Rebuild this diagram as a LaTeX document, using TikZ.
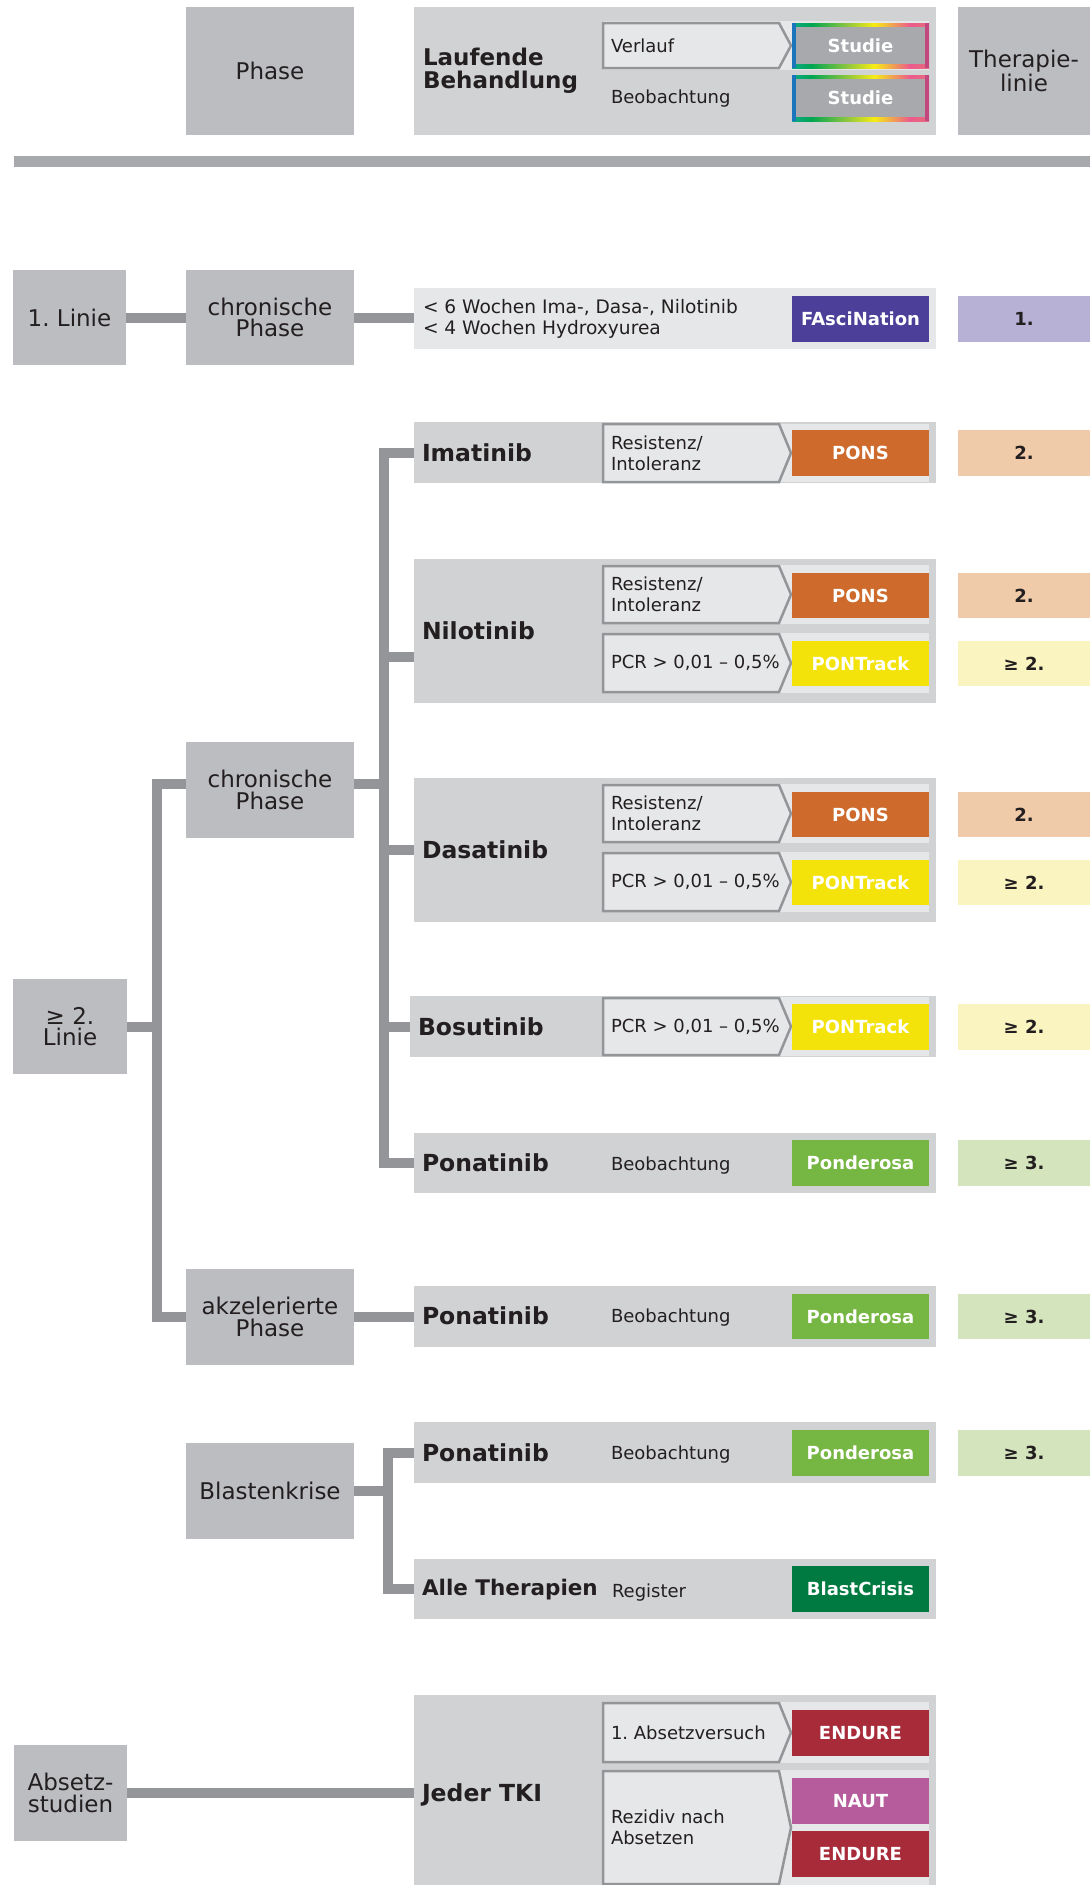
\documentclass[tikz,border=0pt]{standalone}
\usepackage{fontspec}
\setmainfont{DejaVu Sans}
\frenchspacing
\definecolor{txt}{HTML}{231F20}
\definecolor{phgray}{HTML}{BCBDC0}
\definecolor{rowgray}{HTML}{D1D2D4}
\definecolor{panelgray}{HTML}{E6E7E8}
\definecolor{arrgray}{HTML}{939598}
\definecolor{conngray}{HTML}{939598}
\definecolor{bargray}{HTML}{A7A9AC}
\definecolor{studgray}{HTML}{A7A9AC}
\definecolor{fascol}{HTML}{4B3F99}
\definecolor{lav}{HTML}{B8B1D6}
\definecolor{ponscol}{HTML}{CD6A2C}
\definecolor{peach}{HTML}{EFCBAA}
\definecolor{trackcol}{HTML}{F4E30B}
\definecolor{lightyel}{HTML}{FAF4C1}
\definecolor{pondcol}{HTML}{76B643}
\definecolor{lightgrn}{HTML}{D4E5BD}
\definecolor{blastcol}{HTML}{007A40}
\definecolor{endurecol}{HTML}{A82B3A}
\definecolor{nautcol}{HTML}{B65B9C}
\definecolor{rbBlue}{HTML}{1B75BC}
\definecolor{rbCyan}{HTML}{27AAE1}
\definecolor{rbGreen}{HTML}{00A651}
\definecolor{rbLime}{HTML}{8DC63F}
\definecolor{rbYellow}{HTML}{F7EC13}
\definecolor{rbPink}{HTML}{EC5A8C}
\definecolor{rbSalmon}{HTML}{DE7F6B}
\definecolor{rbRed}{HTML}{A6263E}
\definecolor{rbEnd}{HTML}{C2477F}
\pgfdeclarehorizontalshading{rainbow}{100bp}{color(0bp)=(rbBlue); color(14bp)=(rbCyan); color(32bp)=(rbGreen); color(45bp)=(rbLime); color(55bp)=(rbYellow); color(68bp)=(rbPink); color(82bp)=(rbSalmon); color(93bp)=(rbRed); color(100bp)=(rbRed)}
\tikzset{
  base/.style={inner sep=0pt, outer sep=0pt, text=txt},
  phasebox/.style={base, fill=phgray, align=center, font=\fontsize{11.5}{10.8}\selectfont},
  rowbox/.style={base, fill=rowgray},
  lightrow/.style={base, fill=panelgray},
  panelbox/.style={base, fill=panelgray},
  studybox/.style={base, text=white, align=center, font=\bfseries\fontsize{9}{10}\selectfont},
  linebox/.style={base, align=center, font=\bfseries\fontsize{9}{10}\selectfont},
  drugtext/.style={base, anchor=west, align=left, font=\bfseries\fontsize{11.75}{11.5}\selectfont},
  smalltext/.style={base, anchor=west, align=left, font=\fontsize{9}{10.6}\selectfont},
  arrowline/.style={draw=arrgray, fill=panelgray, line width=1.25pt, line join=miter},
  arrtext/.style={base, anchor=west, align=left, font=\fontsize{9}{10.6}\selectfont},
  conn/.style={draw=conngray, line width=5pt},
}
% box from (x1,y1) to (x2,y2) in pixel units
\newcommand{\bx}[7]{%
  \pgfmathsetmacro\BxW{((#5)-(#3))/2}%
  \pgfmathsetmacro\BxH{((#6)-(#4))/2}%
  \pgfmathsetmacro\BxCx{((#3)+(#5))/2}%
  \pgfmathsetmacro\BxCy{((#4)+(#6))/2}%
  \node[#1, minimum width=\BxW pt, minimum height=\BxH pt] (#2) at (\BxCx,\BxCy) {#7};}
% chevron label box
\newcommand{\arrbox}[6]{%
  \pgfmathsetmacro\ArMid{((#3)+(#5))/2}%
  \pgfmathsetmacro\ArSh{(#4)-12}%
  \filldraw[arrowline] (#2,#3) -- (\ArSh,#3) -- (#4,\ArMid) -- (\ArSh,#5) -- (#2,#5) -- cycle;
  \node[arrtext] (#1) at ({(#2)+8},\ArMid) {#6};}
% rainbow study box
\newcommand{\studie}[5]{%
  \shade[shading=rainbow] (#2,#3) rectangle (#4,#5);
  \fill[rbBlue] (#2,#3) rectangle ({(#2)+4},#5);
  \fill[rbEnd] ({(#4)-4},#3) rectangle (#4,#5);
  \bx{studybox, fill=studgray}{#1}{(#2)+4}{(#3)+4}{(#4)-4}{(#5)-4}{Studie}}
\begin{document}
\begin{tikzpicture}[x=0.5pt,y=-0.5pt]
\useasboundingbox (0,0) rectangle (1090,1885);
\fill[white] (0,0) rectangle (1090,1885);

% ---------- header ----------
\bx{phasebox}{phaseH}{186}{7}{354}{135}{Phase}
\bx{rowbox}{laufH}{414}{7}{936}{135}{}
\node[drugtext, font=\bfseries\fontsize{11.5}{11.5}\selectfont] (laufT) at (423,71) {Laufende\\Behandlung};
\bx{panelbox}{panH}{603}{21}{929}{70}{}
\arrbox{verlauf}{603}{23}{791}{68}{Verlauf}
\studie{stud1}{792}{23}{929}{68}
\node[smalltext] (beobH) at (611,99) {Beobachtung};
\studie{stud2}{792}{75}{929}{121}
\bx{phasebox}{therH}{958}{7}{1090}{135}{Therapie-\\linie}
\fill[bargray] (14,156) rectangle (1090,167);

% ---------- 1. Linie ----------
\bx{phasebox}{lin1}{13}{270}{126}{365}{1. Linie}
\bx{phasebox}{chp1}{186}{270}{354}{365}{chronische\\Phase}
\bx{lightrow}{fasrow}{414}{288}{936}{349}{}
\node[smalltext, font=\fontsize{9.3}{10.5}\selectfont] (fasT) at (423,319) {< 6 Wochen Ima-, Dasa-, Nilotinib\\< 4 Wochen Hydroxyurea};
\bx{studybox, fill=fascol}{fas}{792}{296}{929}{342}{FAsciNation}
\bx{linebox, fill=lav}{l1}{958}{296}{1090}{342}{1.}
\draw[conn] (lin1.east) -- (chp1.west);
\draw[conn] (chp1.east) -- (chp1.east -| fasrow.west);

% ---------- Imatinib ----------
\bx{rowbox}{imat}{414}{422}{936}{483}{}
\node[drugtext] (imatT) at (422,453) {Imatinib};
\bx{panelbox}{imatP}{603}{424}{929}{482}{}
\arrbox{imatA}{603}{424}{791}{482}{Resistenz/\\Intoleranz}
\bx{studybox, fill=ponscol}{pons1}{792}{430}{929}{476}{PONS}
\bx{linebox, fill=peach}{l2a}{958}{430}{1090}{476}{2.}

% ---------- Nilotinib ----------
\bx{rowbox}{nilo}{414}{559}{936}{703}{}
\node[drugtext] (niloT) at (422,631) {Nilotinib};
\bx{panelbox}{niloP1}{603}{565}{929}{624}{}
\arrbox{niloA1}{603}{566}{791}{623}{Resistenz/\\Intoleranz}
\bx{studybox, fill=ponscol}{pons2}{792}{573}{929}{618}{PONS}
\bx{linebox, fill=peach}{l2b}{958}{573}{1090}{618}{2.}
\bx{panelbox}{niloP2}{603}{633}{929}{693}{}
\arrbox{niloA2}{603}{634}{791}{692}{PCR > 0,01 – 0,5\%}
\bx{studybox, fill=trackcol}{track1}{792}{641}{929}{686}{PONTrack}
\bx{linebox, fill=lightyel}{l2c}{958}{641}{1090}{686}{≥ 2.}

% ---------- Dasatinib ----------
\bx{rowbox}{dasa}{414}{778}{936}{922}{}
\node[drugtext] (dasaT) at (422,850) {Dasatinib};
\bx{panelbox}{dasaP1}{603}{784}{929}{843}{}
\arrbox{dasaA1}{603}{785}{791}{842}{Resistenz/\\Intoleranz}
\bx{studybox, fill=ponscol}{pons3}{792}{792}{929}{837}{PONS}
\bx{linebox, fill=peach}{l2d}{958}{792}{1090}{837}{2.}
\bx{panelbox}{dasaP2}{603}{852}{929}{912}{}
\arrbox{dasaA2}{603}{853}{791}{911}{PCR > 0,01 – 0,5\%}
\bx{studybox, fill=trackcol}{track2}{792}{860}{929}{905}{PONTrack}
\bx{linebox, fill=lightyel}{l2e}{958}{860}{1090}{905}{≥ 2.}

% ---------- Bosutinib ----------
\bx{rowbox}{bosu}{410}{996}{936}{1057}{}
\node[drugtext] (bosuT) at (418,1027) {Bosutinib};
\bx{panelbox}{bosuP}{603}{997}{929}{1056}{}
\arrbox{bosuA}{603}{998}{791}{1055}{PCR > 0,01 – 0,5\%}
\bx{studybox, fill=trackcol}{track3}{792}{1004}{929}{1050}{PONTrack}
\bx{linebox, fill=lightyel}{l2f}{958}{1004}{1090}{1050}{≥ 2.}

% ---------- Ponatinib (chronisch) ----------
\bx{rowbox}{ponc}{414}{1133}{936}{1193}{}
\node[drugtext] (poncT) at (422,1163) {Ponatinib};
\node[smalltext] (poncB) at (611,1166) {Beobachtung};
\bx{studybox, fill=pondcol}{pond1}{792}{1140}{929}{1186}{Ponderosa}
\bx{linebox, fill=lightgrn}{l3a}{958}{1140}{1090}{1186}{≥ 3.}

% ---------- phases >= 2. Linie ----------
\bx{phasebox}{chp2}{186}{742}{354}{838}{chronische\\Phase}
\bx{phasebox}{lin2}{13}{979}{127}{1074}{≥ 2.\\Linie}
\bx{phasebox}{akz}{186}{1269}{354}{1365}{akzelerierte\\Phase}

% ---------- Ponatinib (akzeleriert) ----------
\bx{rowbox}{ponap}{414}{1286}{936}{1347}{}
\node[drugtext] (ponapT) at (422,1316) {Ponatinib};
\node[smalltext] (ponapB) at (611,1318) {Beobachtung};
\bx{studybox, fill=pondcol}{pond2}{792}{1294}{929}{1339}{Ponderosa}
\bx{linebox, fill=lightgrn}{l3b}{958}{1294}{1090}{1339}{≥ 3.}

% ---------- Blastenkrise ----------
\bx{phasebox}{blast}{186}{1443}{354}{1539}{Blastenkrise}
\bx{rowbox}{ponbc}{414}{1422}{936}{1483}{}
\node[drugtext] (ponbcT) at (422,1453) {Ponatinib};
\node[smalltext] (ponbcB) at (611,1455) {Beobachtung};
\bx{studybox, fill=pondcol}{pond3}{792}{1430}{929}{1476}{Ponderosa}
\bx{linebox, fill=lightgrn}{l3c}{958}{1430}{1090}{1476}{≥ 3.}
\bx{rowbox}{alle}{414}{1559}{936}{1619}{}
\node[drugtext, font=\bfseries\fontsize{10.75}{11}\selectfont] (alleT) at (422,1590) {Alle Therapien};
\node[smalltext] (alleR) at (612,1593) {Register};
\bx{studybox, fill=blastcol}{bcris}{792}{1566}{929}{1612}{BlastCrisis}

% ---------- Absetzstudien ----------
\bx{phasebox}{abs}{14}{1745}{127}{1841}{Absetz-\\studien}
\bx{rowbox}{jeder}{414}{1695}{936}{1885}{}
\node[drugtext] (jederT) at (422,1795) {Jeder TKI};
\bx{panelbox}{jedP1}{603}{1702}{929}{1763}{}
\arrbox{jedA1}{603}{1703}{791}{1762}{1. Absetzversuch}
\bx{studybox, fill=endurecol}{end1}{792}{1710}{929}{1756}{ENDURE}
\bx{panelbox}{jedP2}{603}{1770}{929}{1885}{}
\arrbox{jedA2}{603}{1771}{791}{1884}{Rezidiv nach\\Absetzen}
\bx{studybox, fill=nautcol}{naut}{792}{1778}{929}{1824}{NAUT}
\bx{studybox, fill=endurecol}{end2}{792}{1831}{929}{1877}{ENDURE}

% ---------- connectors ----------
\coordinate (v1) at (157,1000);
\coordinate (v2) at (384,800);
\coordinate (v3) at (388,1500);
\draw[conn] (imat.west) -| (v2) |- (ponc.west);
\path ([yshift=-13pt]nilo.west) coordinate (niloin);
\draw[conn] (niloin) -- (niloin -| v2);
\draw[conn] (dasa.west) -- (dasa.west -| v2);
\draw[conn] (bosu.west) -- (bosu.west -| v2);
\path ([yshift=3pt]chp2.east) coordinate (chp2out);
\draw[conn] (chp2out) -- (chp2out -| v2);
\path ([yshift=3pt]chp2.west) coordinate (chp2in);
\draw[conn] (chp2in) -| (v1) |- (akz.west);
\draw[conn] (lin2.east) -- (lin2.east -| v1);
\draw[conn] (akz.east) -- (akz.east -| ponap.west);
\draw[conn] (blast.east) -- (blast.east -| v3);
\draw[conn] (ponbc.west) -| (v3) |- (alle.west);
\draw[conn] (abs.east) -- (abs.east -| jeder.west);
\end{tikzpicture}
\end{document}
